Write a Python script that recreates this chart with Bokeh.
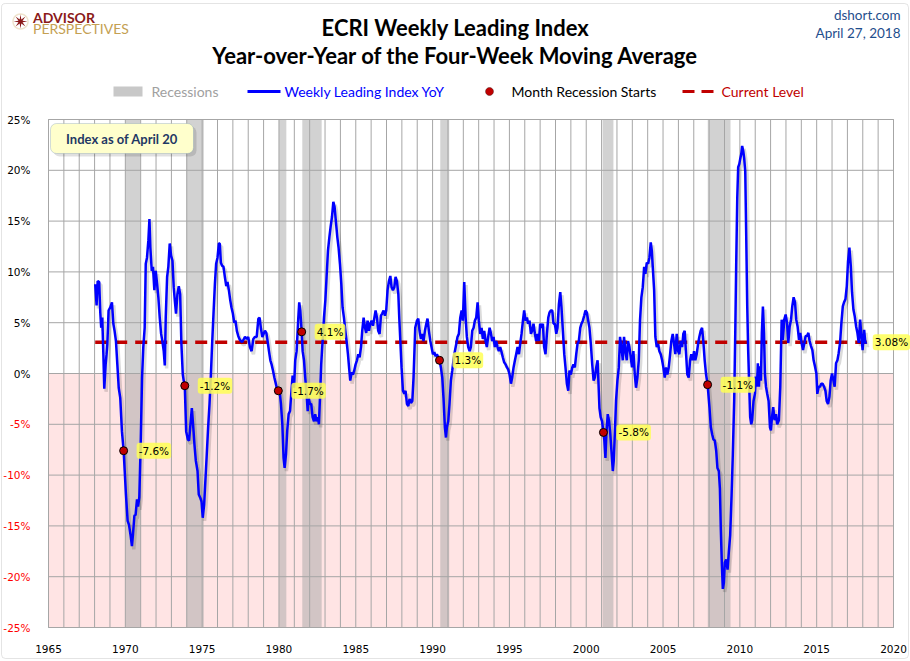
import numpy as np
from bokeh.plotting import figure
from bokeh.models import (Range1d, FixedTicker, PrintfTickFormatter, LinearAxis,
                          Label, BoxAnnotation, PolyAnnotation)
from bokeh.embed import file_html
from bokeh.resources import INLINE

# ---------------- data (year, YoY %) ----------------
wli_1968_1977 = [
    (1968.04, 8.8), (1968.13, 6.7), (1968.20, 9.1), (1968.30, 9.0), (1968.37, 6.0), (1968.43, 4.5),
    (1968.50, 5.5), (1968.57, 1.9), (1968.63, -1.5), (1968.72, 0.9), (1968.78, 1.9), (1968.83, 2.9),
    (1968.91, 6.2), (1969.02, 6.5), (1969.13, 7.0), (1969.22, 4.9), (1969.30, 4.2), (1969.39, 3.2),
    (1969.48, 0.9), (1969.57, -1.4), (1969.67, -2.4), (1969.78, -5.7), (1969.89, -7.6), (1969.96, -9.6),
    (1970.04, -11.9), (1970.15, -14.5), (1970.24, -14.9), (1970.35, -16.0), (1970.43, -17.0), (1970.50, -15.8),
    (1970.59, -14.0), (1970.67, -13.9), (1970.76, -12.4), (1970.83, -13.1), (1970.91, -12.2), (1971.00, -7.0),
    (1971.09, -0.4), (1971.17, 2.6), (1971.26, 4.5), (1971.33, 10.8), (1971.41, 11.4), (1971.50, 13.1),
    (1971.57, 15.2), (1971.63, 12.4), (1971.72, 10.1), (1971.80, 10.5), (1971.89, 8.2), (1971.98, 10.1),
    (1972.07, 8.8), (1972.15, 7.5), (1972.24, 5.5), (1972.33, 3.9), (1972.41, 3.2), (1972.50, 2.2),
    (1972.57, 0.8), (1972.63, 5.5), (1972.72, 9.5), (1972.80, 10.5), (1972.89, 12.8), (1972.98, 11.6),
    (1973.07, 11.1), (1973.15, 8.5), (1973.22, 7.2), (1973.30, 5.9), (1973.39, 7.8), (1973.48, 8.6),
    (1973.57, 7.8), (1973.65, 2.9), (1973.74, -0.1), (1973.80, -0.7), (1973.87, -1.2), (1973.96, -5.7),
    (1974.07, -6.5), (1974.15, -6.6), (1974.24, -5.0), (1974.33, -3.4), (1974.41, -5.0), (1974.50, -7.0),
    (1974.59, -8.6), (1974.70, -9.6), (1974.78, -11.9), (1974.87, -12.2), (1974.96, -12.6), (1975.04, -14.2),
    (1975.13, -12.9), (1975.22, -10.3), (1975.30, -8.0), (1975.39, -5.3), (1975.48, -3.0), (1975.57, -0.1),
    (1975.65, 2.9), (1975.74, 5.9), (1975.83, 8.8), (1975.91, 10.8), (1976.00, 11.4), (1976.09, 12.8),
    (1976.15, 12.8), (1976.22, 10.9), (1976.30, 10.6), (1976.39, 10.5), (1976.48, 9.5), (1976.57, 8.6),
    (1976.65, 9.0), (1976.74, 8.2), (1976.83, 7.2), (1976.91, 6.5), (1977.00, 5.9), (1977.09, 5.0),
    (1977.17, 5.2), (1977.26, 4.2), (1977.35, 3.7), (1977.43, 3.4), (1977.52, 3.2), (1977.61, 3.1),
]
wli_1977_1988 = [
    (1977.79, 3.6), (1977.90, 3.4), (1978.00, 3.6), (1978.11, 2.6), (1978.22, 2.2), (1978.33, 3.4),
    (1978.44, 3.6), (1978.55, 3.6), (1978.66, 5.4), (1978.74, 5.5), (1978.83, 4.4), (1978.92, 3.6),
    (1979.00, 3.9), (1979.09, 4.2), (1979.18, 4.0), (1979.26, 3.2), (1979.35, 2.2), (1979.44, 1.3),
    (1979.52, 0.9), (1979.61, 0.3), (1979.70, -0.4), (1979.78, -0.9), (1979.87, -1.5), (1979.96, -1.7),
    (1980.04, -1.7), (1980.13, -3.0), (1980.22, -5.0), (1980.30, -8.3), (1980.37, -9.3), (1980.46, -7.9),
    (1980.54, -5.6), (1980.63, -4.0), (1980.72, -3.7), (1980.80, -2.0), (1980.89, -0.2), (1980.98, -1.4),
    (1981.06, 1.3), (1981.15, 2.2), (1981.26, 5.5), (1981.32, 7.0), (1981.39, 6.2), (1981.48, 4.1),
    (1981.54, 2.2), (1981.63, 1.3), (1981.71, -0.4), (1981.80, -2.0), (1981.87, -3.7), (1981.93, -2.4),
    (1982.02, -3.0), (1982.10, -3.0), (1982.19, -4.3), (1982.28, -4.7), (1982.36, -4.0), (1982.45, -4.7),
    (1982.54, -4.3), (1982.60, -5.0), (1982.67, -2.4), (1982.75, 0.9), (1982.84, 3.2), (1982.93, 5.5),
    (1983.02, 7.2), (1983.10, 9.5), (1983.19, 12.1), (1983.28, 13.4), (1983.36, 14.4), (1983.45, 15.4),
    (1983.54, 16.9), (1983.62, 16.4), (1983.71, 14.9), (1983.80, 13.4), (1983.88, 12.4), (1983.97, 10.8),
    (1984.06, 8.8), (1984.14, 6.5), (1984.23, 5.5), (1984.32, 4.2), (1984.40, 3.2), (1984.49, 1.9),
    (1984.58, 0.3), (1984.64, -0.7), (1984.73, 0.1), (1984.82, -0.1), (1984.90, 0.3), (1984.99, 0.9),
    (1985.08, 1.3), (1985.16, 1.9), (1985.25, 1.6), (1985.34, 2.6), (1985.42, 4.2), (1985.51, 5.5),
    (1985.60, 4.5), (1985.68, 4.0), (1985.77, 5.2), (1985.86, 4.2), (1985.94, 4.9), (1986.03, 5.2),
    (1986.12, 4.7), (1986.20, 5.4), (1986.29, 6.2), (1986.38, 5.5), (1986.46, 4.2), (1986.55, 3.9),
    (1986.64, 5.7), (1986.72, 5.9), (1986.81, 6.2), (1986.90, 5.7), (1986.98, 6.2), (1987.07, 8.2),
    (1987.16, 9.1), (1987.25, 9.6), (1987.33, 8.5), (1987.42, 8.2), (1987.51, 8.5), (1987.59, 9.5),
    (1987.68, 9.1), (1987.77, 7.8), (1987.83, 5.5), (1987.90, 3.2), (1987.98, 0.6), (1988.07, -1.7),
    (1988.16, -2.0), (1988.24, -1.7), (1988.33, -3.0), (1988.42, -3.2), (1988.50, -2.5), (1988.59, -2.9),
    (1988.68, -2.7), (1988.76, -0.4),
]
wli_1988_2000 = [
    (1988.87, 4.5), (1988.98, 5.2), (1989.07, 5.4), (1989.15, 4.2), (1989.24, 3.4), (1989.33, 3.9),
    (1989.41, 3.2), (1989.50, 4.2), (1989.59, 4.9), (1989.67, 5.4), (1989.76, 4.2), (1989.85, 3.2),
    (1989.93, 2.6), (1990.02, 1.9), (1990.11, 2.1), (1990.19, 1.7), (1990.28, 1.9), (1990.37, 1.6),
    (1990.45, 1.3), (1990.54, 0.6), (1990.63, -0.4), (1990.71, -2.4), (1990.80, -5.3), (1990.87, -6.3),
    (1990.93, -5.3), (1991.02, -4.7), (1991.10, -3.0), (1991.19, -0.7), (1991.28, 0.3), (1991.36, 1.3),
    (1991.45, 2.2), (1991.54, 2.9), (1991.62, 3.6), (1991.71, 3.9), (1991.80, 5.5), (1991.89, 6.2),
    (1991.97, 5.2), (1992.06, 9.0), (1992.15, 5.5), (1992.23, 3.6), (1992.32, 2.6), (1992.41, 2.2),
    (1992.49, 2.6), (1992.58, 4.2), (1992.67, 4.5), (1992.75, 5.2), (1992.84, 5.5), (1992.93, 7.0),
    (1993.01, 5.2), (1993.10, 3.9), (1993.19, 4.5), (1993.27, 3.4), (1993.36, 4.2), (1993.45, 3.2),
    (1993.53, 2.6), (1993.62, 3.6), (1993.71, 4.5), (1993.79, 4.0), (1993.88, 3.2), (1993.97, 3.6),
    (1994.05, 2.6), (1994.14, 3.2), (1994.23, 2.6), (1994.31, 2.2), (1994.40, 2.6), (1994.49, 2.1),
    (1994.57, 1.6), (1994.66, 1.1), (1994.75, 0.9), (1994.84, 0.6), (1994.92, 0.4), (1995.01, -0.1),
    (1995.10, -1.0), (1995.18, -0.4), (1995.27, 0.6), (1995.36, 1.3), (1995.44, 1.9), (1995.53, 2.6),
    (1995.62, 1.9), (1995.70, 2.9), (1995.79, 3.9), (1995.88, 5.2), (1995.96, 6.2), (1996.05, 5.2),
    (1996.14, 5.5), (1996.22, 4.9), (1996.31, 5.2), (1996.40, 3.9), (1996.48, 4.2), (1996.57, 4.9),
    (1996.66, 3.9), (1996.74, 3.2), (1996.83, 3.9), (1996.92, 3.2), (1997.00, 4.9), (1997.09, 4.5),
    (1997.18, 4.9), (1997.26, 2.6), (1997.35, 1.9), (1997.44, 3.9), (1997.53, 5.5), (1997.61, 6.0),
    (1997.70, 6.2), (1997.79, 6.2), (1997.87, 4.9), (1997.96, 4.9), (1998.05, 3.9), (1998.13, 4.5),
    (1998.22, 6.8), (1998.31, 8.0), (1998.39, 6.5), (1998.48, 4.2), (1998.57, 1.9), (1998.65, 0.6),
    (1998.74, -1.0), (1998.83, -1.7), (1998.91, 0.3), (1999.00, -0.1), (1999.09, 0.6), (1999.17, 0.9),
    (1999.26, 0.6), (1999.35, 1.9), (1999.43, 2.9), (1999.52, 3.2), (1999.61, 4.5), (1999.69, 4.9),
    (1999.78, 5.2), (1999.87, 5.7), (1999.95, 6.2), (2000.04, 6.0), (2000.13, 5.2), (2000.21, 4.5),
    (2000.30, 2.9), (2000.39, 0.9), (2000.48, -0.7), (2000.56, -0.4), (2000.65, 0.6), (2000.74, 1.3),
]
wli_2000_2007 = [
    (2000.86, -3.4), (2000.94, -4.3), (2001.03, -4.7), (2001.12, -5.8), (2001.18, -6.6), (2001.25, -8.3),
    (2001.31, -6.0), (2001.40, -4.0), (2001.49, -4.7), (2001.57, -6.0), (2001.64, -7.6), (2001.73, -9.6),
    (2001.79, -8.6), (2001.86, -6.0), (2001.94, -2.7), (2002.03, -0.7), (2002.12, 0.6), (2002.20, 3.6),
    (2002.29, 2.6), (2002.38, 1.3), (2002.46, 3.6), (2002.55, 2.2), (2002.64, 1.3), (2002.72, 3.2),
    (2002.81, 2.6), (2002.90, 1.6), (2002.98, 0.6), (2003.07, 2.2), (2003.16, -0.1), (2003.24, -1.4),
    (2003.33, -0.4), (2003.42, 1.3), (2003.50, 5.2), (2003.59, 7.5), (2003.68, 8.5), (2003.77, 10.5),
    (2003.85, 9.8), (2003.94, 10.9), (2004.03, 10.8), (2004.11, 11.4), (2004.20, 12.9), (2004.27, 12.1),
    (2004.33, 10.5), (2004.42, 8.2), (2004.50, 3.6), (2004.59, 2.6), (2004.68, 2.9), (2004.76, 2.2),
    (2004.85, 1.9), (2004.94, 1.3), (2005.02, 0.6), (2005.11, -0.4), (2005.20, 0.6), (2005.28, -0.1),
    (2005.37, 0.6), (2005.46, 1.9), (2005.54, 3.2), (2005.63, 3.9), (2005.72, 2.9), (2005.80, 1.9),
    (2005.89, 3.9), (2005.98, 2.2), (2006.06, 1.9), (2006.15, 3.2), (2006.24, 2.6), (2006.32, 3.9),
    (2006.41, 4.2), (2006.50, 1.9), (2006.58, -0.1), (2006.67, -0.4), (2006.76, 1.3), (2006.84, 1.9),
    (2006.93, 1.3), (2007.02, 2.2), (2007.10, 1.3), (2007.19, 1.9), (2007.28, 2.9), (2007.36, 3.6),
    (2007.45, 4.2), (2007.54, 4.5), (2007.62, 3.2), (2007.71, 1.3), (2007.80, -0.1), (2007.90, -1.1),
]
wli_2008_2018 = [
    (2008.02, -3.3), (2008.11, -5.3), (2008.20, -6.0), (2008.28, -6.5), (2008.37, -6.6), (2008.46, -7.6),
    (2008.54, -9.3), (2008.63, -9.6), (2008.70, -11.3), (2008.76, -15.3), (2008.83, -18.9), (2008.89, -21.2),
    (2008.96, -20.6), (2009.02, -18.6), (2009.11, -18.3), (2009.20, -19.3), (2009.28, -17.6), (2009.37, -15.9),
    (2009.46, -12.0), (2009.54, -8.0), (2009.63, -2.7), (2009.70, 4.0), (2009.76, 10.6), (2009.83, 17.3),
    (2009.89, 20.3), (2009.96, 20.6), (2010.02, 21.1), (2010.09, 21.6), (2010.15, 22.4), (2010.22, 21.9),
    (2010.28, 21.2), (2010.35, 19.9), (2010.41, 13.9), (2010.48, 6.6), (2010.54, 2.3), (2010.61, -1.3),
    (2010.67, -4.3), (2010.74, -5.0), (2010.80, -4.6), (2010.89, -2.7), (2010.98, -2.0), (2011.04, -0.3),
    (2011.11, -1.3), (2011.17, 1.0), (2011.24, -1.3), (2011.30, 0.7), (2011.37, -0.7), (2011.43, 4.0),
    (2011.50, 6.6), (2011.57, 4.0), (2011.63, 0.0), (2011.70, -1.3), (2011.78, -2.0), (2011.87, -2.7),
    (2011.96, -5.3), (2012.02, -5.6), (2012.09, -4.3), (2012.17, -3.3), (2012.26, -4.6), (2012.35, -4.0),
    (2012.43, -5.0), (2012.54, -4.6), (2012.63, -1.3), (2012.72, 5.3), (2012.80, 3.3), (2012.89, 5.3),
    (2012.98, 5.8), (2013.07, 5.0), (2013.15, 3.0), (2013.24, 4.6), (2013.33, 5.3), (2013.41, 6.6),
    (2013.50, 7.5), (2013.59, 7.0), (2013.67, 5.3), (2013.76, 4.6), (2013.85, 3.3), (2013.93, 4.0),
    (2014.02, 3.0), (2014.11, 2.3), (2014.20, 3.0), (2014.28, 3.7), (2014.37, 3.7), (2014.46, 4.0),
    (2014.54, 3.2), (2014.63, 2.7), (2014.72, 2.3), (2014.80, 1.3), (2014.89, 0.7), (2014.98, 0.0),
    (2015.04, -2.0), (2015.13, -1.3), (2015.22, -1.3), (2015.30, -1.0), (2015.39, -1.0), (2015.48, -1.3),
    (2015.57, -1.7), (2015.65, -2.7), (2015.74, -3.0), (2015.83, -2.3), (2015.91, -0.7), (2016.00, 0.0),
    (2016.09, -0.7), (2016.17, -1.3), (2016.26, 1.0), (2016.35, 1.3), (2016.43, 2.0), (2016.52, 3.0),
    (2016.61, 5.0), (2016.70, 6.6), (2016.78, 7.0), (2016.87, 7.3), (2016.96, 8.6), (2017.04, 11.0),
    (2017.13, 12.4), (2017.22, 10.6), (2017.30, 8.0), (2017.39, 6.3), (2017.48, 5.6), (2017.57, 4.6),
    (2017.65, 4.0), (2017.74, 3.0), (2017.83, 5.3), (2017.91, 3.7), (2017.99, 2.3), (2018.09, 4.3),
    (2018.17, 3.0), (2018.26, 3.08),
]

recession_start = [1970.0, 1973.98, 1980.0, 1981.52, 1990.5, 2001.07, 2007.91]
recession_end = [1970.98, 1975.11, 1980.48, 1982.78, 1991.08, 2001.77, 2009.39]

start_year = [1969.89, 1973.87, 1979.96, 1981.48, 1990.45, 2001.12, 2007.90]
start_value = [-7.6, -1.2, -1.7, 4.1, 1.3, -5.8, -1.1]
start_label = ["-7.6%", "-1.2%", "-1.7%", "4.1%", "1.3%", "-5.8%", "-1.1%"]

current_level = 3.08
current_label = "3.08%"

X0, X1, Y0, Y1 = 1965, 2020, -25, 25
x_ticks = list(range(X0, X1 + 1, 5))
x_grid = list(range(X0, X1 + 1, 1))
y_ticks = list(range(Y0, Y1 + 1, 5))
y_ticks_pos = [t for t in y_ticks if t >= 0]
y_ticks_neg = [t for t in y_ticks if t < 0]

# ---------------- assemble series ----------------
series = wli_1968_1977 + wli_1977_1988 + wli_1988_2000 + wli_2000_2007 + wli_2008_2018
yrs = np.array([s[0] for s in series])
yoy = np.array([s[1] for s in series])

# ---------------- layout helpers (canvas pixel -> data); frame fills the canvas ----------------
FL, FR, FT, FB = 48, 893, 119, 627   # plot box in canvas pixels
W, H = 910, 661


def dx(px):
    return X0 + (px - FL) * (X1 - X0) / (FR - FL)


def dy(py):
    return Y1 - (py - FT) * (Y1 - Y0) / (FB - FT)


p = figure(width=W, height=H, output_backend="svg", toolbar_location=None, title=None,
           x_range=Range1d(dx(0), dx(W)), y_range=Range1d(dy(H), dy(0)),
           min_border_left=0, min_border_right=0, min_border_top=0, min_border_bottom=0)
p.background_fill_color = "white"
p.border_fill_color = "white"
p.outline_line_color = None
p.grid.visible = False

# axes drawn along the edges of the plot box
p.xaxis.fixed_location = Y0
p.yaxis.fixed_location = X0
p.xaxis.ticker = FixedTicker(ticks=x_ticks)
p.yaxis.ticker = FixedTicker(ticks=y_ticks_pos)
p.yaxis.formatter = PrintfTickFormatter(format="%d%%")
neg_axis = LinearAxis(ticker=FixedTicker(ticks=y_ticks_neg), formatter=PrintfTickFormatter(format="%d%%"),
                      fixed_location=X0)
p.add_layout(neg_axis, "left")
for ax in (p.xaxis[0], p.yaxis[0], neg_axis):
    ax.axis_line_color = None
    ax.major_tick_line_color = None
    ax.minor_tick_line_color = None
    ax.major_label_text_font = "DejaVu Sans"
    ax.major_label_text_font_size = "10.5px"
    ax.major_label_text_color = "black"
    ax.major_label_standoff = 12
neg_axis.major_label_text_color = "#FF0000"
p.xaxis.major_label_standoff = 11

GRID = "#A6A6A6"
# outer chart border
p.add_layout(BoxAnnotation(left=dx(1), right=dx(908), top=dy(3), bottom=dy(658), fill_color=None,
                           line_color="#A6A6A6", line_width=1, border_radius=4))
# negative zone
p.quad(left=X0, right=X1, bottom=Y0, top=0, fill_color="#FFE4E4", line_color=None)
# grid lines
p.segment(x0=x_grid, x1=x_grid, y0=Y0, y1=Y1, line_color=GRID, line_width=1)
p.segment(x0=X0, x1=X1, y0=y_ticks, y1=y_ticks, line_color=GRID, line_width=1)
# recessions
p.quad(left=recession_start, right=recession_end, bottom=Y0, top=Y1,
       fill_color="#A6A6A6", fill_alpha=0.5, line_color=None)
# plot box
p.quad(left=X0, right=X1, bottom=Y0, top=Y1, fill_color=None, line_color=GRID, line_width=1)

# current level
p.line([yrs[0], yrs[-1]], [current_level, current_level], line_color="#C00000",
       line_width=3.5, line_dash="12 8")

# series with soft shadow
p.line(yrs + 0.12, yoy - 0.3, line_color="black", line_alpha=0.14, line_width=3.5)
p.line(yrs, yoy, line_color="#0000FF", line_width=2.5)

# recession start dots
p.scatter(start_year, start_value, size=8, fill_color="#C00000", line_color="black", line_width=1)
for xv, yv, t in zip(start_year, start_value, start_label):
    p.add_layout(Label(x=xv, y=yv, text=t, x_offset=13, text_baseline="middle",
                       text_font="DejaVu Sans", text_font_size="10.5px", text_color="black",
                       background_fill_color="#FFFF55", background_fill_alpha=0.85, padding=2,
                       border_radius=3))
p.add_layout(Label(x=yrs[-1], y=current_level, text=current_label, x_offset=6, text_baseline="middle",
                   text_font="DejaVu Sans", text_font_size="10.5px", text_color="black",
                   background_fill_color="#FFFF55", background_fill_alpha=0.85, padding=2,
                   border_radius=3))

# "Index as of" box
p.add_layout(BoxAnnotation(left=dx(53), right=dx(196), top=dy(126), bottom=dy(156),
                           fill_color="black", fill_alpha=0.12, line_color=None, border_radius=6))
p.add_layout(BoxAnnotation(left=dx(50), right=dx(193), top=dy(123), bottom=dy(153),
                           fill_color="#FFFFCC", fill_alpha=1, line_color="#6A8CB3", line_width=1,
                           border_radius=6))
p.add_layout(Label(x=dx(121.5), y=dy(138), text="Index as of April 20", text_align="center",
                   text_baseline="middle", text_font="Lato", text_font_size="13px",
                   text_font_style="bold", text_color="#1F3864"))

# titles
p.add_layout(Label(x=dx(455), y=dy(26.5), text="ECRI Weekly Leading Index", text_align="center",
                   text_baseline="middle", text_font="Lato", text_font_size="22px",
                   text_font_style="bold", text_color="black"))
p.add_layout(Label(x=dx(455), y=dy(55), text="Year-over-Year of the Four-Week Moving Average",
                   text_align="center", text_baseline="middle", text_font="Lato",
                   text_font_size="22px", text_font_style="bold", text_color="black"))
p.add_layout(Label(x=dx(900), y=dy(14), text="dshort.com", text_align="right", text_baseline="middle",
                   text_font="Lato", text_font_size="13.5px", text_color="#1F4E8C"))
p.add_layout(Label(x=dx(900), y=dy(32.5), text="April 27, 2018", text_align="right",
                   text_baseline="middle", text_font="Lato", text_font_size="13.5px", text_color="#1F4E8C"))

# logo
p.add_layout(Label(x=dx(32.5), y=dy(16.5), text="ADVISOR", text_baseline="middle", text_font="Lato",
                   text_font_size="14px", text_font_style="bold", text_color="#8B1A1A"))
p.add_layout(Label(x=dx(32.5), y=dy(27.5), text="PERSPECTIVES", text_baseline="middle", text_font="Lato",
                   text_font_size="14px", text_color="#C4A052"))
ang = np.linspace(0, 2 * np.pi, 33)
p.add_layout(PolyAnnotation(xs=list(dx(20 + 7.5 * np.cos(ang))), ys=list(dy(21 + 7.5 * np.sin(ang))),
                            fill_color=None, line_color="#C9A75E", line_width=1.5))
sa = np.linspace(0, 2 * np.pi, 17)[:-1]
sr = np.where(np.arange(16) % 2 == 0, 7.0, 2.2)
p.add_layout(PolyAnnotation(xs=list(dx(20 + sr * np.cos(sa))), ys=list(dy(21 + sr * np.sin(sa))),
                            fill_color="#8B1A1A", fill_alpha=1, line_color=None))

# legend
LY = 91
p.add_layout(BoxAnnotation(left=dx(113), right=dx(142), top=dy(LY - 5), bottom=dy(LY + 5),
                           fill_color="#C8C8C8", fill_alpha=1, line_color=None))
p.add_layout(Label(x=dx(151), y=dy(LY), text="Recessions", text_baseline="middle", text_font="Lato",
                   text_font_size="14px", text_color="#A0A0A0"))
p.add_layout(BoxAnnotation(left=dx(247), right=dx(280), top=dy(LY - 1.5), bottom=dy(LY + 1.5),
                           fill_color="#0000FF", fill_alpha=1, line_color=None))
p.add_layout(Label(x=dx(284), y=dy(LY), text="Weekly Leading Index YoY", text_baseline="middle",
                   text_font="Lato", text_font_size="14px", text_color="#0000FF"))
p.add_layout(PolyAnnotation(xs=list(dx(489 + 4 * np.cos(ang))), ys=list(dy(LY + 4 * np.sin(ang))),
                            fill_color="#C00000", fill_alpha=1, line_color="black", line_width=1))
p.add_layout(Label(x=dx(511), y=dy(LY), text="Month Recession Starts", text_baseline="middle",
                   text_font="Lato", text_font_size="14px", text_color="black"))
for a, b in ((682, 694), (701, 713)):
    p.add_layout(BoxAnnotation(left=dx(a), right=dx(b), top=dy(LY - 1.5), bottom=dy(LY + 1.5),
                               fill_color="#C00000", fill_alpha=1, line_color=None))
p.add_layout(Label(x=dx(721), y=dy(LY), text="Current Level", text_baseline="middle",
                   text_font="Lato", text_font_size="14px", text_color="#C00000"))

open("out.html", "w").write(file_html(p, INLINE))
